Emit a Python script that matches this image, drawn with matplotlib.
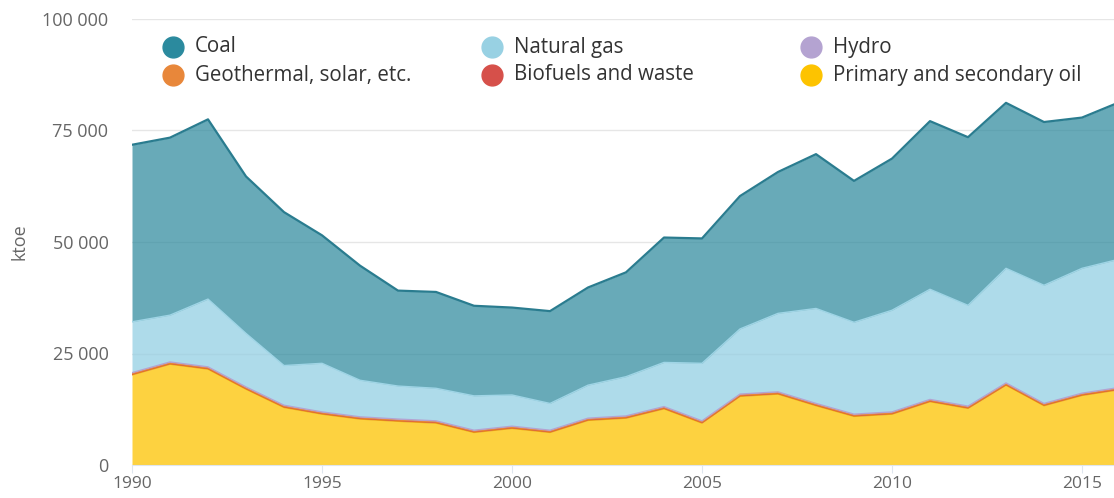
import matplotlib
matplotlib.use("Agg")
import matplotlib.pyplot as plt
import numpy as np
from matplotlib.ticker import FuncFormatter, MultipleLocator

plt.rcParams['font.family'] = ['Open Sans', 'DejaVu Sans']

years = list(range(1990, 2017))

oil = [20200, 22600, 21500, 17000, 12900, 11400, 10300, 9800, 9400, 7300,
       8200, 7300, 10000, 10500, 12600, 9400, 15400, 15900, 13300, 10900,
       11400, 14200, 12700, 17900, 13300, 15600, 16900]
biofuels = [150, 150, 150, 150, 150, 150, 150, 150, 150, 150,
            150, 150, 150, 150, 150, 150, 150, 150, 150, 150,
            150, 150, 150, 150, 150, 150, 150]
geothermal = [120, 120, 120, 120, 120, 120, 120, 120, 120, 120,
              120, 120, 120, 120, 120, 120, 120, 120, 120, 120,
              120, 120, 120, 120, 120, 120, 120]
hydro = [230, 230, 230, 230, 230, 230, 230, 230, 230, 230,
         230, 230, 230, 230, 230, 230, 230, 230, 230, 230,
         230, 230, 230, 230, 230, 230, 230]
gas = [11400, 10500, 15200, 12000, 8900, 10900, 8200, 7400, 7300, 7700,
       7000, 6000, 7400, 8800, 9900, 12900, 14600, 17600, 21300, 20600,
       22800, 24700, 22600, 25700, 26500, 28000, 28800]
coal = [39700, 39800, 40300, 35200, 34400, 28700, 25700, 21400, 21600, 20200,
        19600, 20700, 21900, 23400, 28000, 28000, 29800, 31700, 34600, 31700,
        34000, 37700, 37700, 37100, 36600, 33800, 35200]

series_order = ["Primary and secondary oil", "Biofuels and waste",
                "Geothermal, solar, etc.", "Hydro", "Natural gas", "Coal"]
series_vals = [oil, biofuels, geothermal, hydro, gas, coal]
fill_colors = ["#fdc300", "#d6504a", "#e8873a", "#b4a3d1", "#93cfe3", "#2e8a9d"]
fill_alpha = [0.75, 0.75, 0.75, 0.75, 0.75, 0.72]
edge_colors = ["#f2b600", "#d6504a", "#e8873a", "#b4a3d1", "#9fd5e6", "#2a7c8f"]
legend_colors = {"Coal": "#2b8a9e", "Natural gas": "#98d1e3", "Hydro": "#b4a3d1",
                 "Geothermal, solar, etc.": "#e8873a", "Biofuels and waste": "#d6504a",
                 "Primary and secondary oil": "#fdc300"}
legend_order = ["Coal", "Natural gas", "Hydro",
                "Geothermal, solar, etc.", "Biofuels and waste", "Primary and secondary oil"]

W, H = 1114, 498
fig = plt.figure(figsize=(W / 100, H / 100), dpi=100)
ax = fig.add_axes([132 / W, (H - 465) / H, (W - 132) / W, (465 - 19) / H])

cum = np.cumsum(np.array(series_vals, dtype=float), axis=0)
base = np.zeros(len(years))
for i in range(len(series_vals)):
    ax.fill_between(years, base, cum[i], color=fill_colors[i], alpha=fill_alpha[i],
                    lw=0, zorder=2)
    base = cum[i]
for i in range(len(series_vals)):
    lw = 1.6 if i == len(series_vals) - 1 else 1.0
    ax.plot(years, cum[i], color=edge_colors[i], lw=lw, zorder=3, solid_joinstyle='round')

ax.set_xlim(1990, 1990 + (W - 132) / 38.0)
ax.set_ylim(0, 100000)
ax.yaxis.set_major_locator(MultipleLocator(25000))
ax.xaxis.set_major_locator(MultipleLocator(5))
ax.yaxis.set_major_formatter(FuncFormatter(lambda v, p: f"{int(v):,}".replace(",", " ")))
ax.grid(axis='y', color='#e6e6e6', lw=1, zorder=0)
ax.set_axisbelow(True)
for s in ['top', 'right', 'left']:
    ax.spines[s].set_visible(False)
ax.spines['bottom'].set_color('#dfe6ee')
ax.tick_params(axis='y', length=0, pad=17, labelsize=13, labelcolor='#666666')
ax.tick_params(axis='x', length=6, color='#dfe6ee', pad=2, labelsize=12.5, labelcolor='#666666')
ax.set_ylabel("ktoe", fontsize=13, color='#666666', labelpad=10)

# legend
col_x = [173, 492, 811]
row_y = [47, 75]
for k, name in enumerate(legend_order):
    r, c = divmod(k, 3)
    fx = col_x[c] / W
    fy = 1 - row_y[r] / H
    fig.lines.append(plt.Line2D([fx], [fy], marker='o', markersize=15,
                                color=legend_colors[name], transform=fig.transFigure,
                                linestyle='none'))
    fig.text((col_x[c] + 22) / W, fy, name, fontsize=14.8, color='#333333',
             va='center', ha='left')

fig.savefig("out.png", dpi=100)
